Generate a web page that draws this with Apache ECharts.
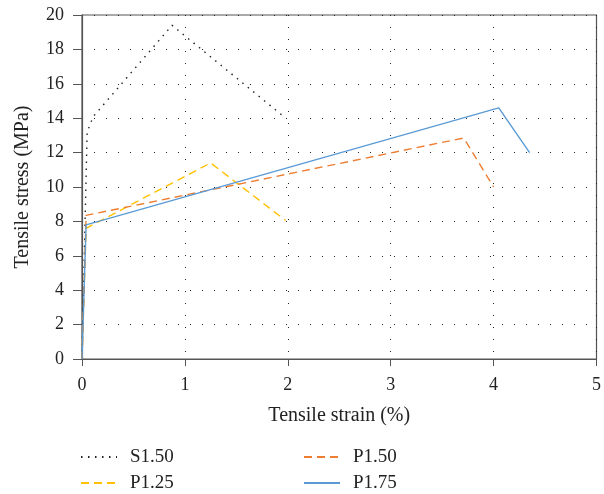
<!DOCTYPE html>
<html>
<head>
<meta charset="utf-8">
<script src="https://cdn.jsdelivr.net/npm/echarts@6/dist/echarts.min.js"></script>
<style>
  html, body { margin: 0; padding: 0; background: #fff; }
  #chart { width: 604px; height: 494px; }
</style>
</head>
<body>
<div id="chart"></div>
<script>
// Tensile stress–strain curves for the four specimen types
const seriesNames = ['S1.50', 'P1.25', 'P1.50', 'P1.75'];

const s150Strain = [0, 0.03, 0.05, 0.11, 0.875, 1.98];
const s150Stress = [0, 8.0, 13.2, 14.1, 19.4, 14.0];

const p125Strain = [0, 0.04, 1.25, 1.98];
const p125Stress = [0, 7.6, 11.4, 8.05];

const p150Strain = [0, 0.04, 3.71, 4.0];
const p150Stress = [0, 8.35, 12.85, 10.0];

const p175Strain = [0, 0.04, 4.05, 4.35];
const p175Stress = [0, 7.8, 14.6, 12.0];

const xTicks = [0, 1, 2, 3, 4, 5];
const yTicks = [0, 2, 4, 6, 8, 10, 12, 14, 16, 18, 20];

const colors = ['#222222', '#FFC000', '#ED7D31', '#5B9BD5'];
const dashes = [[1.5, 5.5], [8, 5], [8, 5], 'solid'];

const pairs = (xs, ys) => xs.map((x, i) => [x, ys[i]]);
const curves = [
  pairs(s150Strain, s150Stress),
  pairs(p125Strain, p125Stress),
  pairs(p150Strain, p150Stress),
  pairs(p175Strain, p175Stress)
];

const FONT = '"Liberation Serif", "Times New Roman", serif';
const gridLine = { show: true, lineStyle: { color: '#222', width: 1, type: [1, 11] } };
const axisLine = { show: true, lineStyle: { color: '#555', width: 1.2 } };

// Two-column legend: one legend block per entry
const legendSlots = [
  { name: 'S1.50', left: 80, top: 447 },
  { name: 'P1.25', left: 80, top: 473 },
  { name: 'P1.50', left: 303, top: 447 },
  { name: 'P1.75', left: 303, top: 473 }
];

const chart = echarts.init(document.getElementById('chart'), null, { renderer: 'canvas' });
chart.setOption({
  animation: false,
  backgroundColor: '#fff',
  grid: { left: 82, right: 2, top: 15, bottom: 135, show: true, borderColor: '#555', borderWidth: 1.2 },
  xAxis: {
    type: 'value',
    min: xTicks[0], max: xTicks[xTicks.length - 1], interval: 1,
    name: 'Tensile strain (%)',
    nameLocation: 'middle', nameGap: 47,
    nameTextStyle: { fontFamily: FONT, fontSize: 20, color: '#222' },
    axisLine: axisLine,
    axisTick: { show: true, length: 7, lineStyle: { color: '#555' } },
    axisLabel: { margin: 17, fontFamily: FONT, fontSize: 18, color: '#222' },
    splitLine: gridLine
  },
  yAxis: {
    type: 'value',
    min: yTicks[0], max: yTicks[yTicks.length - 1], interval: 2,
    name: 'Tensile stress (MPa)',
    nameLocation: 'middle', nameGap: 49,
    nameTextStyle: { fontFamily: FONT, fontSize: 20, color: '#222' },
    axisLine: axisLine,
    axisTick: { show: true, length: 9, lineStyle: { color: '#555' } },
    axisLabel: { margin: 18, fontFamily: FONT, fontSize: 18, color: '#222' },
    splitLine: gridLine
  },
  legend: legendSlots.map(s => ({
    data: [s.name], left: s.left, top: s.top, padding: 0,
    itemWidth: 36, itemHeight: 14,
    itemStyle: { opacity: 0 },
    textStyle: { fontFamily: FONT, fontSize: 19, color: '#222', lineHeight: 20, padding: [0, 0, 0, 8] }
  })),
  series: seriesNames.map((name, i) => ({
    name: name,
    type: 'line',
    data: curves[i],
    showSymbol: false,
    symbol: 'none',
    color: colors[i],
    lineStyle: { color: colors[i], width: 1.4, type: dashes[i] },
    z: 3 + i
  }))
});
</script>
</body>
</html>
